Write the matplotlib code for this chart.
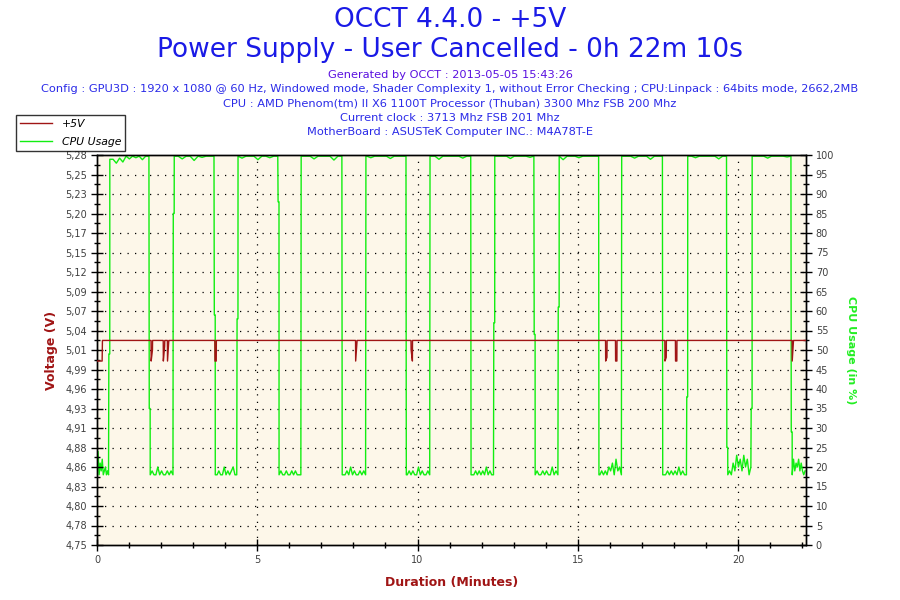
#!/usr/bin/env python

# import libraries
import numpy as np
import matplotlib.pyplot as plt
from matplotlib.ticker import MultipleLocator, FixedLocator

# ---- data ----
volt_label_text = ["4,75", "4,78", "4,80", "4,83", "4,86", "4,88", "4,91", "4,93", "4,96", "4,99",
                   "5,01", "5,04", "5,07", "5,09", "5,12", "5,15", "5,17", "5,20", "5,23", "5,25", "5,28"]
volt_min, volt_max = 4.75, 5.28
duration_max = 22.12

# +5V rail: flat level with short dips
volt_base = 5.028
volt_start = [5.000, 0.16]      # level, end time of the first low reading
dip_times = [1.69, 2.07, 2.20, 3.68, 8.07, 9.80, 15.87, 16.18, 17.72, 18.05, 21.69]
dip_low1 = [5.000, 5.000, 5.000, 5.000, 5.000, 5.015, 5.000, 5.000, 5.000, 5.000, 5.000]
dip_low2 = [5.015, 5.020, 5.028, 5.000, 5.025, 5.000, 5.005, 5.000, 5.005, 5.000, 5.028]

# CPU usage: load on / load off cycles
cpu_rise = [0.37, 2.38, 4.37, 6.37, 8.39, 10.39, 12.38, 14.39, 16.37, 18.40, 20.41]
cpu_rise_mid = [49, 85, 58, 99.7, 99.7, 99.7, 57, 61, 99.7, 38, 35]
cpu_fall = [1.63, 3.66, 5.65, 7.65, 9.65, 11.67, 13.64, 15.66, 17.65, 19.65, 21.66]
cpu_fall_mid = [35, 59, 88, 18, 18, 18, 54, 18, 18, 25, 29]
cpu_end = 22.10

cpu_low_noise = [
    [20, 24, 18, 21, 19, 22, 18, 19, 20, 18, 19, 18],
    [18, 19, 18, 18, 20, 18, 19, 18, 18, 19, 18, 19, 18],
    [18, 18, 19, 18, 18, 20, 18, 19, 18, 19, 20, 18, 18],
    [18, 19, 18, 18, 19, 18, 18, 19, 18, 19, 18, 18, 18],
    [18, 18, 19, 18, 20, 18, 19, 18, 18, 19, 18, 19, 18],
    [18, 19, 18, 19, 18, 18, 20, 18, 19, 18, 18, 19, 18],
    [18, 18, 19, 18, 19, 18, 19, 18, 20, 18, 19, 18, 18],
    [18, 19, 18, 18, 19, 18, 19, 18, 18, 20, 18, 19, 18],
    [18, 19, 18, 19, 18, 20, 19, 21, 18, 22, 19, 20, 18],
    [18, 18, 19, 18, 19, 18, 19, 18, 20, 18, 19, 18, 18],
    [18, 19, 18, 21, 19, 23, 20, 22, 19, 23, 20, 22, 18, 20],
    [18, 22, 19, 21, 20, 22, 19, 21, 19, 18, 19],
]
cpu_high_noise = [
    [98.9, 98.9, 97.9, 99.2, 98.2, 99.7, 99.0, 99.7, 99.3, 99.7, 98.8, 99.7, 99.7],
    [99.7, 99.7, 99.0, 99.7, 99.7, 98.6, 99.7, 99.4, 99.7, 99.7, 99.7],
    [99.7, 99.2, 99.7, 99.7, 99.7, 98.8, 99.7, 99.7, 99.3, 99.7, 99.7],
    [99.7, 99.7, 99.7, 99.0, 99.7, 99.7, 99.7, 99.7, 98.7, 99.7, 99.7],
    [99.7, 99.3, 99.7, 99.7, 99.7, 99.7, 99.1, 99.7, 99.7, 99.7, 99.7],
    [99.7, 99.7, 98.9, 99.7, 99.7, 99.7, 99.7, 99.7, 99.2, 99.7, 99.7],
    [99.7, 99.7, 99.7, 99.7, 99.1, 99.7, 99.7, 99.7, 99.7, 99.4, 99.7],
    [99.7, 98.8, 99.7, 99.7, 99.7, 99.3, 99.7, 99.7, 99.7, 99.7, 99.7],
    [99.7, 99.7, 99.7, 99.2, 99.7, 99.7, 99.7, 98.9, 99.7, 99.7, 99.7],
    [99.7, 99.7, 99.3, 99.7, 99.7, 99.7, 99.7, 99.7, 99.0, 99.7, 99.7],
    [99.7, 99.7, 99.7, 99.7, 99.2, 99.7, 99.7, 99.7, 99.7, 99.5, 99.7],
]

title_lines = ["OCCT 4.4.0 - +5V", "Power Supply - User Cancelled - 0h 22m 10s"]
info_lines = [
    "Generated by OCCT : 2013-05-05 15:43:26",
    "Config : GPU3D : 1920 x 1080 @ 60 Hz, Windowed mode, Shader Complexity 1, without Error Checking ; CPU:Linpack : 64bits mode, 2662,2MB",
    "CPU : AMD Phenom(tm) II X6 1100T Processor (Thuban) 3300 Mhz FSB 200 Mhz",
    "Current clock : 3713 Mhz FSB 201 Mhz",
    "MotherBoard : ASUSTeK Computer INC.: M4A78T-E",
]

# ---- build the sampled series ----
volt_t = [0.0, volt_start[1], volt_start[1] + 0.01]
volt_v = [volt_start[0], volt_start[0], volt_base]
for t, a, b in zip(dip_times, dip_low1, dip_low2):
    volt_t += [t - 0.004, t, t + 0.04, t + 0.044]
    volt_v += [volt_base, a, b, volt_base]
volt_t.append(cpu_end)
volt_v.append(volt_base)

# edges are drawn as steps: one reading at the mid value, then the new level
step = 0.03
cpu_t, cpu_v = [], []
edges = [0.0]
for r, f in zip(cpu_rise, cpu_fall):
    edges += [r, f]
edges.append(cpu_end)
for i, vals in enumerate(cpu_low_noise):
    a = edges[2 * i] + (step if i > 0 else 0.0)
    b = edges[2 * i + 1]
    cpu_t += list(np.linspace(a, b - 0.01, len(vals)))
    cpu_v += vals
    if i < len(cpu_rise):
        cpu_t += [cpu_rise[i], cpu_rise[i] + step - 0.002]
        cpu_v += [cpu_rise_mid[i], cpu_rise_mid[i]]
        hv = cpu_high_noise[i]
        cpu_t += list(np.linspace(cpu_rise[i] + step, cpu_fall[i] - 0.01, len(hv)))
        cpu_v += hv
        cpu_t += [cpu_fall[i], cpu_fall[i] + step - 0.002]
        cpu_v += [cpu_fall_mid[i], cpu_fall_mid[i]]

# ---- figure ----
narrow = ["Liberation Sans Narrow", "DejaVu Sans Condensed", "DejaVu Sans"]
fig = plt.figure(figsize=(9, 6), dpi=100, facecolor="white")
ax = fig.add_axes([97 / 900, 1 - 545 / 600, (806 - 97) / 900, (545 - 155) / 600])
ax2 = ax.twinx()

ax.plot(volt_t, volt_v, color="#a01515", lw=1.0, zorder=3)
ax2.plot(cpu_t, cpu_v, color="#11ee11", lw=1.0, zorder=2)
ax.set_zorder(ax2.get_zorder() + 1)
ax.patch.set_visible(False)
ax2.set_facecolor("#fdf7e9")
ax2.patch.set_visible(True)

ax.set_xlim(0, duration_max)
ax.set_ylim(volt_min, volt_max)
ax2.set_ylim(0, 100)

volt_ticks = np.linspace(volt_min, volt_max, len(volt_label_text))
ax.yaxis.set_major_locator(FixedLocator(volt_ticks))
ax.set_yticklabels(volt_label_text)
ax.yaxis.set_minor_locator(FixedLocator((volt_ticks[:-1] + volt_ticks[1:]) / 2))
ax.xaxis.set_major_locator(MultipleLocator(5))
ax.xaxis.set_minor_locator(MultipleLocator(1))
ax2.yaxis.set_major_locator(MultipleLocator(5))
ax2.yaxis.set_minor_locator(MultipleLocator(2.5))

for a in (ax, ax2):
    a.tick_params(which="major", direction="inout", length=8, width=1, labelsize=7,
                  labelcolor="#404040", pad=3)
    a.tick_params(which="minor", direction="inout", length=5, width=1)
    for s in a.spines.values():
        s.set_color("black")
        s.set_linewidth(1)

# dotted grid
for yv in range(5, 100, 5):
    ax2.axhline(yv, color="black", lw=0.9, ls=(0, (1, 5)), zorder=1)
for xv in range(5, 21, 5):
    ax2.axvline(xv, color="black", lw=0.9, ls=(0, (1, 5)), zorder=1)

ax.set_xlabel("Duration (Minutes)", color="#a01515", fontsize=9, fontweight="bold",
              family=narrow, labelpad=8)
ax.set_ylabel("Voltage (V)", color="#a01515", fontsize=9, fontweight="bold",
              family=narrow, labelpad=5)
ax2.set_ylabel("CPU Usage (in %)", color="#22ee22", fontsize=8, fontweight="bold",
               rotation=-90, labelpad=16)

# titles
fig.text(0.5, 1 - 20 / 600, title_lines[0], ha="center", va="center", fontsize=19, color="#1a1ae6")
fig.text(0.5, 1 - 50 / 600, title_lines[1], ha="center", va="center", fontsize=19, color="#1a1ae6")
info_colors = ["#5a10e0", "#2a2ae8", "#2a2ae8", "#2a2ae8", "#2a2ae8"]
for k, line in enumerate(info_lines):
    fig.text(0.5, 1 - (75 + 14.2 * k) / 600, line, ha="center", va="center", fontsize=8.2,
             color=info_colors[k])

# legend
h1, = ax.plot([], [], color="#a01515", lw=1.0)
h2, = ax.plot([], [], color="#11ee11", lw=1.0)
leg = fig.legend([h1, h2], ["+5V", "CPU Usage"], loc="upper left",
                 bbox_to_anchor=(16 / 900, 1 - 115 / 600), frameon=True, fancybox=False,
                 prop={"size": 7.8, "style": "italic"}, handlelength=3.0, borderpad=0.35,
                 labelspacing=0.75, handletextpad=0.9, borderaxespad=0)
leg.get_frame().set_edgecolor("black")
leg.get_frame().set_linewidth(1)

fig.savefig("out.png", dpi=100, facecolor="white")
